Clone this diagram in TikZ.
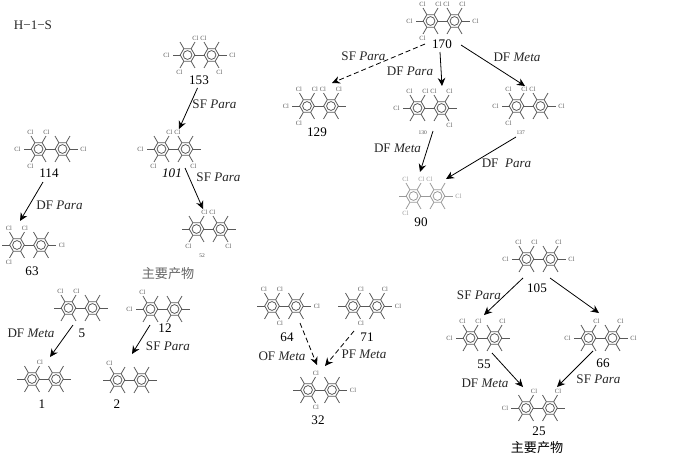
\documentclass[tikz,border=0pt]{standalone}
\usepackage{fontspec}
\setmainfont{Liberation Serif}
\newfontfamily\cjk{Noto Sans CJK SC}
\usetikzlibrary{arrows.meta,positioning}

% one phenyl ring: name, colour, x offset, stubs, Cl positions
\newcommand{\ring}[5]{%
  \begin{scope}[xshift=#3]
    \coordinate (p0) at (21,0);
    \coordinate (p60) at (8,-17);
    \coordinate (p120) at (-8,-17);
    \coordinate (p180) at (-21,0);
    \coordinate (p240) at (-8,17);
    \coordinate (p300) at (8,17);
    \draw[bond, draw=#2] (0:7.3) -- (60:7.3) -- (120:7.3) -- (180:7.3) -- (240:7.3) -- (300:7.3) -- cycle;
    \draw[bond, draw=#2] (0,0) circle (4.4pt);
    \foreach \a in {#4} {
      \draw[bond, draw=#2] (-\a:7.3) -- (-\a:15);
    }
    \foreach \a in {#5} {
      \node[cl, text=#2] (c#1-\a) at (p\a) {Cl};
    }
  \end{scope}
}
% biphenyl: [colour], number, position, Cl on left ring, Cl on right ring
\newcommand{\biph}[5][black!65]{%
  \node[mol] (m#2) at (#3) {};
  \begin{scope}[shift={(#3)}]
    \draw[bond, draw=#1] (-4.7,0) -- (4.7,0);
    \ring{#2l}{#1}{-12}{60,120,180,240,300}{#4}
    \ring{#2r}{#1}{12}{0,60,120,240,300}{#5}
  \end{scope}
}

\begin{document}
\begin{tikzpicture}[
  x=1pt, y=-1pt,
  font=\fontsize{13.1}{15}\selectfont,
  bond/.style={line width=0.8pt},
  cl/.style={inner sep=0pt, font=\fontsize{6.4}{7}\selectfont},
  mol/.style={minimum width=60pt, minimum height=36pt, inner sep=0pt},
  num/.style={inner sep=0pt},
  tinynum/.style={inner sep=0pt, text=black!70, font=\fontsize{5.5}{6}\selectfont},
  route/.style={inner sep=0pt, text=black!85},
  arrow/.style={-{Stealth[length=8pt,width=7.5pt]}, line width=0.8pt},
  dasharrow/.style={arrow, dash pattern=on 5pt off 3pt}
]
\useasboundingbox (0,0) rectangle (680,455);

\node[route] (title) at (33,25) {H−1−S};

\biph{153}{199.5,55}{60,180,240}{120,0,300}
\biph{170}{442.5,21}{120,60,180,240}{120,60,0}
\biph{129}{319,106}{120,60,180,240}{120,60}
\biph{130}{429.5,108}{120,60,180}{120,60,300}
\biph{137}{528.5,106}{120,60,180,240}{120,0}
\biph[black!40]{90}{425.5,196}{120,60,240}{120,0}
\biph{114}{50.5,149}{120,60,180,240}{0}
\biph{63}{29,245}{120,60,240}{0}
\biph{101}{173.5,149}{60,180,240}{120,300}
\biph{52}{208.5,229}{60,240}{120,300}
\biph{5}{80.5,308}{120,60}{}
\biph{12}{162.5,309}{120,180}{}
\biph{1}{44,379}{60}{}
\biph{2}{129.5,380}{120}{}
\biph{64}{284,306}{120,60,300}{0}
\biph{71}{365,306}{60,300}{60,0}
\biph{32}{320,390}{60,300}{0}
\biph{105}{538.5,259}{120,60,180}{60,0}
\biph{55}{482.5,338}{120,60,180}{60}
\biph{66}{600.5,338}{60,180}{60,0}
\biph{25}{538,408}{60,180}{60}

\foreach \x/\y/\t in {199/80/153,442/44/170,317/132/129,421/222/90,49/173/114,32/271/63,
  82/333/5,165/328/12,42/404/1,117/404/2,287/337/64,367/337/71,318/420/32,
  537/288/105,484/364/55,603/363/66,539/431/25} {
  \node[num] (n\t) at (\x,\y) {\t};
}
\node[num] (n101) at (172,173) {\textit{101}};
\node[tinynum] (n130) at (422.7,133) {130};
\node[tinynum] (n137) at (520.7,133) {137};
\node[tinynum] (n52) at (202,256) {52};

\node[num, text=black!60] (mainA) at (168,274) {\cjk 主要产物};
\node[num] (mainB) at (537,448) {\cjk 主要产物};

\node[route] (r153) at (214.5,104) {SF \textit{Para}};
\node[route] (r101) at (218.5,177) {SF \textit{Para}};
\node[route] (r129) at (363.5,56) {SF \textit{Para}};
\node[route] (r130) at (410,71) {DF \textit{Para}};
\node[route] (r137) at (517,57) {DF \textit{Meta}};
\node[route] (r90a) at (397.5,148) {DF \textit{Meta}};
\node[route] (r90b) at (506.5,163) {DF \ \textit{Para}};
\node[route] (r114) at (59.5,205) {DF \textit{Para}};
\node[route] (r5) at (31,333) {DF \textit{Meta}};
\node[route] (r12) at (168,346) {SF \textit{Para}};
\node[route] (r64) at (282,356) {OF \textit{Meta}};
\node[route] (r71) at (364,354) {PF \textit{Meta}};
\node[route] (r105) at (479,295) {SF \textit{Para}};
\node[route] (r55) at (485,383) {DF \textit{Meta}};
\node[route] (r66) at (598.5,379) {SF \textit{Para}};

\draw[arrow] ([shift={(-2,33)}]m153.center) -- ([shift={(5.5,-20)}]m101.center);
\draw[dasharrow] ([shift={(-17.5,23)}]m170.center) -- ([shift={(13,-23)}]m129.center);
\draw[arrow] ([shift={(-2.5,31)}]m170.center) -- ([shift={(12.5,-22)}]m130.center);
\draw[arrow] ([shift={(18.5,24)}]m170.center) -- ([shift={(-3.5,-20)}]m137.center);
\draw[arrow] ([shift={(3.5,23)}]m130.center) -- ([shift={(-5.5,-24)}]m90.center);
\draw[arrow] ([shift={(-12.5,31)}]m137.center) -- ([shift={(20.5,-17)}]m90.center);
\draw[arrow] ([shift={(-7.5,33)}]m114.center) -- ([shift={(-9,-24)}]m63.center);
\draw[arrow] ([shift={(11.5,19)}]m101.center) -- ([shift={(-5.5,-20)}]m52.center);
\draw[arrow] ([shift={(-7.5,17)}]m5.center) -- ([shift={(6,-22)}]m1.center);
\draw[arrow] ([shift={(-12.5,16)}]m12.center) -- ([shift={(2.5,-26)}]m2.center);
\draw[dasharrow] ([shift={(16,17)}]m64.center) -- ([shift={(-3,-25)}]m32.center);
\draw[dasharrow] ([shift={(-11,25)}]m71.center) -- ([shift={(5,-24)}]m32.center);
\draw[arrow] ([shift={(-15.5,19)}]m105.center) -- ([shift={(1.5,-23)}]m55.center);
\draw[arrow] ([shift={(11.5,19)}]m105.center) -- ([shift={(-1.5,-25)}]m66.center);
\draw[arrow] ([shift={(9.5,15)}]m55.center) -- ([shift={(-15,-21)}]m25.center);
\draw[arrow] ([shift={(-7.5,13)}]m66.center) -- ([shift={(19,-21)}]m25.center);

\end{tikzpicture}
\end{document}
